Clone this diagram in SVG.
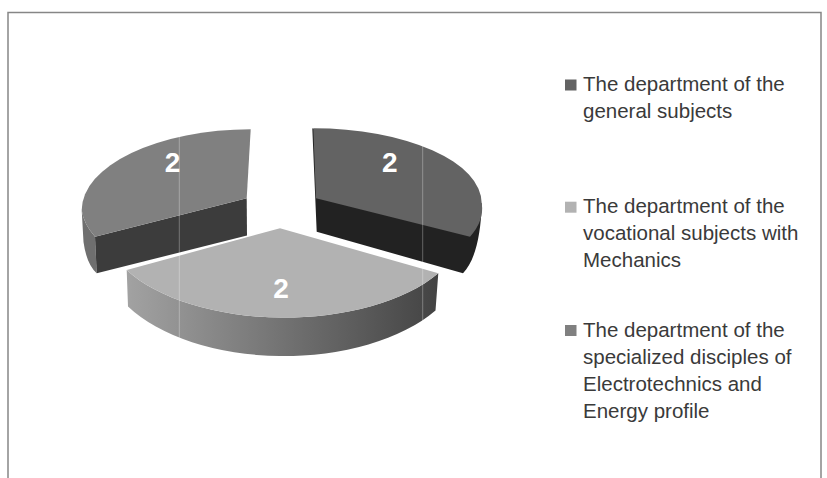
<svg xmlns="http://www.w3.org/2000/svg" width="827" height="478" viewBox="0 0 827 478">
<defs>
<style>
.lg{font-family:"Liberation Sans",Arial,sans-serif;font-size:20.5px;fill:#3a3a3a}
.val{font-family:"Liberation Sans",Arial,sans-serif;font-size:28px;font-weight:bold;fill:#ffffff;text-anchor:middle}
.grid{stroke:#ffffff;stroke-opacity:0.3;stroke-width:1}
</style>
<linearGradient id="wallFront" gradientUnits="userSpaceOnUse" x1="127" y1="0" x2="438" y2="0">
<stop offset="0" stop-color="#a2a2a2"/>
<stop offset="1" stop-color="#434343"/>
</linearGradient>
</defs>
<rect width="827" height="478" fill="#ffffff"/>
<path d="M8,478 V12.5 H821 V478" fill="none" stroke="#868686" stroke-width="1.5"/>

<g id="slice-electrotechnics">
<path d="M81.7,210 L83.5,242 Q86.5,264 96.7,273.3 L95,236.7 A169 81 0 0 1 81.7,210 Z" fill="#6f6f6f"/>
<polygon points="246.7,198.3 95,236.7 96.7,273.3 247,235.5" fill="#3c3c3c"/>
<path d="M250.7,129.3 A169 81 0 0 0 81.7,210 A169 81 0 0 0 95,236.7 L246.7,198.3 Z" fill="#808080"/>
<text class="val" x="172.5" y="172">2</text>
</g>

<g id="slice-general">
<path d="M312.3,128.3 L316.7,231.7 L463,273.3 C474,262 481,238 481.7,203.3 L470,200 L316,130 Z" fill="#222222"/>
<path d="M313.3,128.3 A168 75 0 0 1 481.7,203.3 A168 75 0 0 1 470,236.7 L316,198.3 Z" fill="#636363"/>
<text class="val" x="389.7" y="172">2</text>
</g>

<g id="slice-vocational">
<path d="M126.7,270 A180 92 0 0 0 438.3,273.3 L435.5,310.5 A180 99 0 0 1 128,306.5 Z" fill="url(#wallFront)"/>
<path d="M280,228.3 L126.7,270 A180 92 0 0 0 438.3,273.3 Z" fill="#b2b2b2"/>
<text class="val" x="281" y="298">2</text>
</g>

<g id="gridlines">
<line class="grid" x1="179.3" y1="134" x2="179.3" y2="348"/>
<line class="grid" x1="422.7" y1="146" x2="422.7" y2="340"/>
</g>

<g id="legend">
<g id="legend-general">
<rect x="565" y="79.5" width="11.5" height="11" fill="#636363"/>
<text class="lg" x="583" y="91">The department of the</text>
<text class="lg" x="583" y="117.5">general subjects</text>
</g>
<g id="legend-vocational">
<rect x="565" y="201.7" width="11.5" height="11" fill="#b2b2b2"/>
<text class="lg" x="583" y="213">The department of the</text>
<text class="lg" x="583" y="240">vocational subjects with</text>
<text class="lg" x="583" y="267">Mechanics</text>
</g>
<g id="legend-electrotechnics">
<rect x="565" y="325" width="11.5" height="11" fill="#808080"/>
<text class="lg" x="583" y="336.5">The department of the</text>
<text class="lg" x="583" y="363.5">specialized disciples of</text>
<text class="lg" x="583" y="390.5">Electrotechnics and</text>
<text class="lg" x="583" y="417.5">Energy profile</text>
</g>
</g>
</svg>
